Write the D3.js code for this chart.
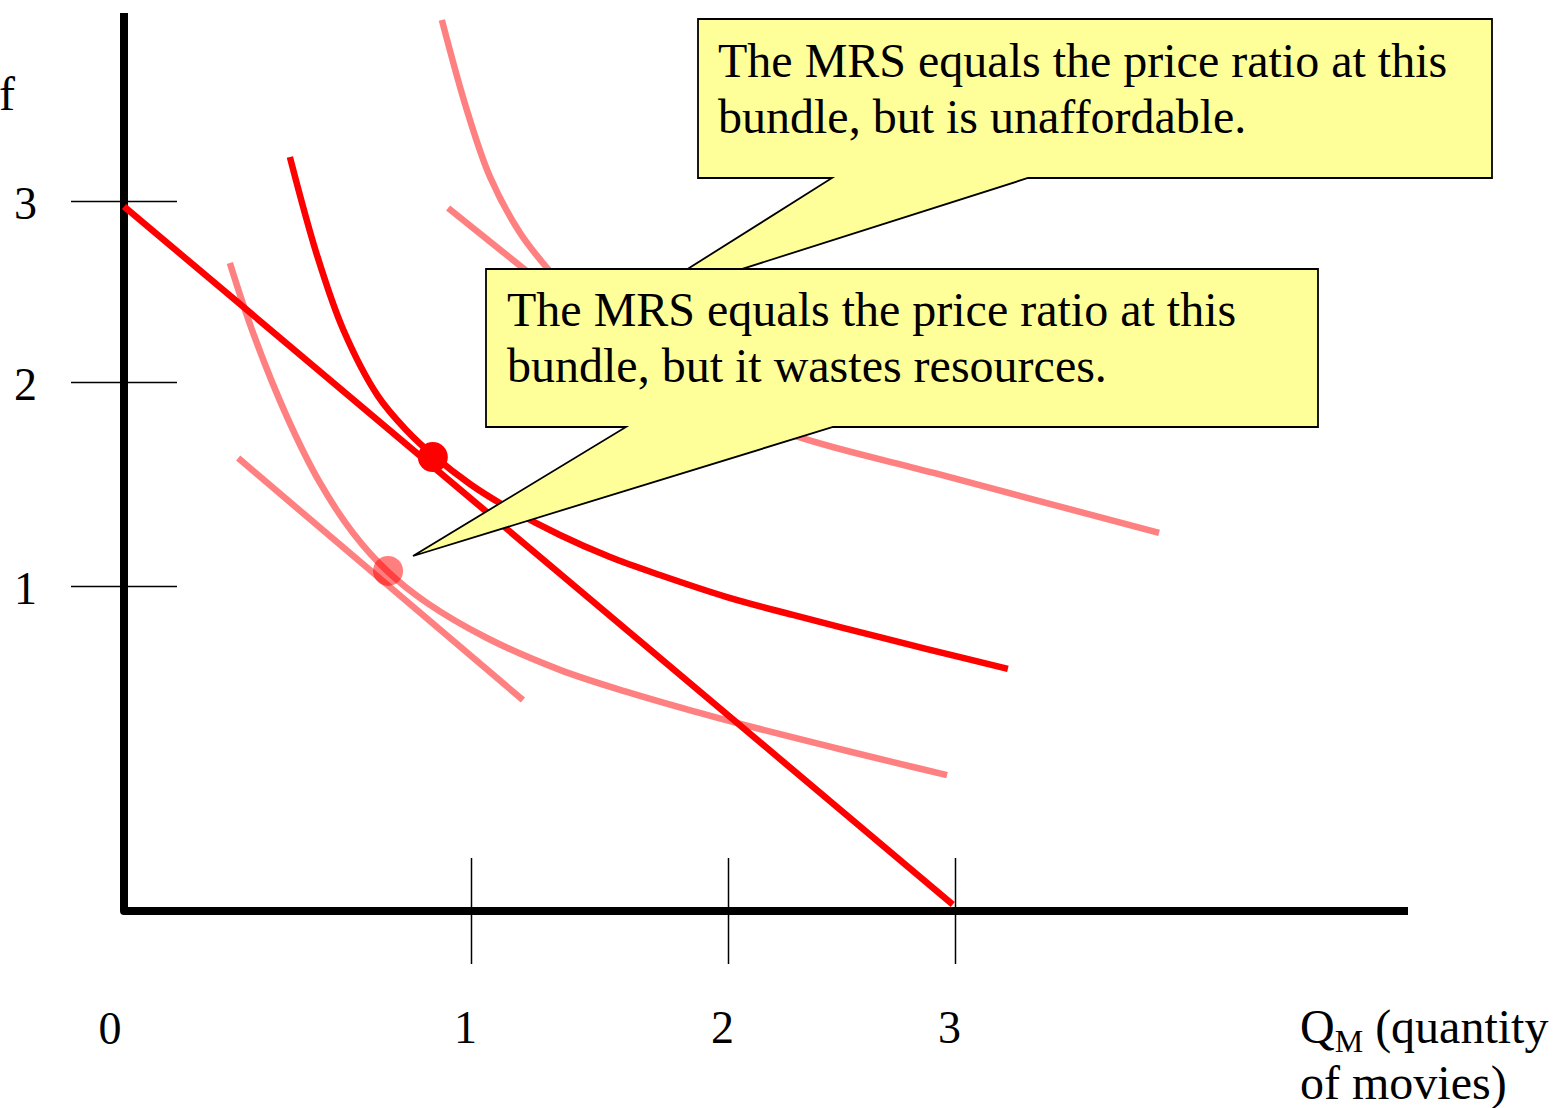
<!DOCTYPE html>
<html>
<head>
<meta charset="utf-8">
<script src="https://cdn.jsdelivr.net/npm/d3@7"></script>
<style>
body{margin:0;background:#fff;}
svg{display:block;font-family:"Liberation Serif","Times New Roman",serif;}
</style>
</head>
<body>
<svg id="chart" width="1553" height="1108"></svg>
<script>
/************
** data (Q_M, Q_F)
*************/
var xTicks = [1, 2, 3];
var yTicks = [1, 2, 3];

var budgetLine = [[0, 2.97], [2.99, 0.02]];

// indifference curve through the optimal bundle
var curveMid = [[0.478, 3.243], [0.556, 2.702], [0.631, 2.293], [0.732, 1.931], [0.816, 1.760],
    [0.890, 1.642], [0.997, 1.500], [1.125, 1.397], [1.346, 1.250], [1.541, 1.142],
    [1.735, 1.054], [1.996, 0.966], [2.286, 0.911], [2.581, 0.858], [2.877, 0.806],
    [3.233, 0.745]];
// lower curve (wastes resources)
var curveLow = [[0.305, 2.657], [0.372, 2.271], [0.470, 1.828], [0.565, 1.505], [0.660, 1.260],
    [0.761, 1.069], [0.873, 0.948], [1.062, 0.840], [1.346, 0.742], [1.607, 0.674],
    [1.864, 0.615], [2.141, 0.560], [2.436, 0.508], [2.727, 0.458], [2.965, 0.418]];
// upper curve (unaffordable)
var curveHigh = [[0.916, 4.0], [0.988, 3.503], [1.074, 3.133], [1.191, 2.823], [1.296, 2.630],
    [1.502, 2.298], [1.813, 1.951], [2.313, 1.730], [2.907, 1.554], [3.899, 1.260]];

var tangentLow = [[0.329, 1.627], [1.202, 0.649]];
var tangentHigh = [[0.934, 2.961], [1.891, 1.863]];

var bundleOptimal = [0.890, 1.632];
var bundleWaste = [0.761, 1.074];

var noteUnaffordable = ["The MRS equals the price ratio at this", "bundle, but is unaffordable."];
var noteWaste = ["The MRS equals the price ratio at this", "bundle, but it wastes resources."];

/************
** colors
*************/
var strongRed = "#ff0000";
var lightRed = "#ff8080";
var noteFill = "#ffff99";

/************
** scales
*************/
var svg = d3.select("#chart");
// hand drawn axes: tick spacing is not even, so the scales are piecewise
var x = d3.scaleLinear().domain([0, 1, 2, 3]).range([124, 471, 728, 955]);
var y = d3.scaleLinear().domain([0, 1, 2, 3]).range([911, 586, 382, 201]);

var line = d3.line()
    .x(function(d){ return x(d[0]); })
    .y(function(d){ return y(d[1]); })
    .curve(d3.curveCatmullRom.alpha(0.5));

/************
** axes
*************/
var xAxis = svg.append("g")
    .attr("transform", "translate(0,858)")
    .call(d3.axisBottom(x).tickValues(xTicks).tickFormat(d3.format("d")).tickSize(106).tickPadding(46));
xAxis.selectAll("text").attr("dx", -6);

var yAxis = svg.append("g")
    .attr("transform", "translate(177,0)")
    .call(d3.axisLeft(y).tickValues(yTicks).tickFormat(d3.format("d")).tickSize(106).tickPadding(34));
yAxis.selectAll("text").attr("dy", "0.37em");

svg.selectAll(".domain").remove();
svg.selectAll(".tick line").attr("stroke", "#000").attr("stroke-width", 1.5);
svg.selectAll(".tick text")
    .attr("fill", "#000")
    .style("font-family", '"Liberation Serif","Times New Roman",serif')
    .style("font-size", "46px");

svg.append("path")
    .attr("d", "M" + x(0) + ",13V" + y(0) + "H1408")
    .attr("fill", "none")
    .attr("stroke", "#000")
    .attr("stroke-width", 8)
    .attr("stroke-linejoin", "round");

svg.append("text")
    .attr("x", x(0) - 14).attr("y", 1044)
    .attr("text-anchor", "middle")
    .style("font-size", "46px")
    .text("0");

var xLabel = svg.append("text").attr("x", 1300).attr("y", 1043).style("font-size", "48px");
xLabel.append("tspan").text("Q");
xLabel.append("tspan").attr("dy", 9).style("font-size", "32px").text("M");
xLabel.append("tspan").attr("dy", -9).text(" (quantity");
svg.append("text").attr("x", 1300).attr("y", 1099).style("font-size", "48px").text("of movies)");

// only the tail of the y label shows at the left edge
svg.append("text").attr("x", -1).attr("y", 110).style("font-size", "48px").text("f");

/************
** curves
*************/
var light = [curveHigh, tangentHigh, curveLow, tangentLow];
svg.selectAll("path.light").data(light)
    .enter().append("path")
        .attr("class", "light")
        .attr("d", line)
        .attr("fill", "none")
        .attr("stroke", lightRed)
        .attr("stroke-width", 6.5);

svg.append("circle")
    .attr("cx", x(bundleWaste[0])).attr("cy", y(bundleWaste[1]))
    .attr("r", 15)
    .attr("fill", strongRed)
    .attr("fill-opacity", 0.5);

svg.selectAll("path.strong").data([budgetLine, curveMid])
    .enter().append("path")
        .attr("class", "strong")
        .attr("d", line)
        .attr("fill", "none")
        .attr("stroke", strongRed)
        .attr("stroke-width", 6.5);

svg.append("circle")
    .attr("cx", x(bundleOptimal[0])).attr("cy", y(bundleOptimal[1]))
    .attr("r", 15)
    .attr("fill", strongRed);

/************
** callouts
*************/
function callout(box, tail, lines, tx, ty){
    var d = "M" + box.x0 + "," + box.y0 + "H" + box.x1 + "V" + box.y1 +
        "H" + tail[1] + "L" + tail[2][0] + "," + tail[2][1] +
        "L" + tail[0] + "," + box.y1 + "H" + box.x0 + "Z";
    svg.append("path")
        .attr("d", d)
        .attr("fill", noteFill)
        .attr("stroke", "#000")
        .attr("stroke-width", 1.8)
        .attr("stroke-linejoin", "miter");
    svg.append("g").selectAll("text").data(lines)
        .enter().append("text")
            .attr("x", tx)
            .attr("y", function(d, i){ return ty + i * 56; })
            .style("font-size", "48px")
            .text(function(d){ return d; });
}
callout({x0: 698, y0: 19, x1: 1492, y1: 178}, [832, 1028, [632, 304]], noteUnaffordable, 718, 77);
callout({x0: 486, y0: 269, x1: 1318, y1: 427}, [626, 833, [413, 556]], noteWaste, 507, 326);
</script>
</body>
</html>
